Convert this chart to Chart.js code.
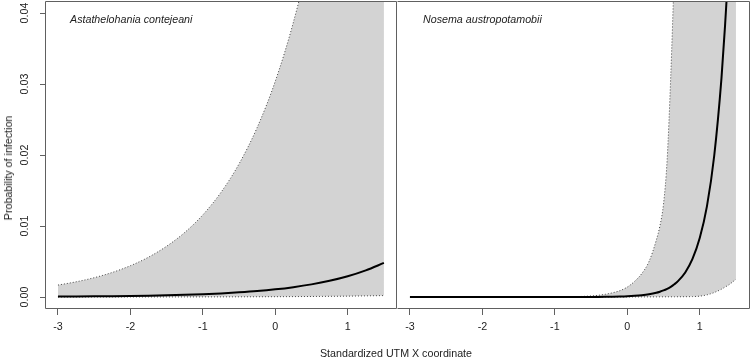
<!DOCTYPE html>
<html><head><meta charset="utf-8">
<script src="https://cdn.jsdelivr.net/npm/chart.js@4/dist/chart.umd.min.js"></script>
<style>
html,body{margin:0;padding:0;background:#fff;}
#wrap{position:relative;width:751px;height:360px;overflow:hidden;font-family:"Liberation Sans",Arial,sans-serif;color:#222;}
canvas{position:absolute;top:0;}
.lbl{position:absolute;font-size:10.7px;line-height:12px;white-space:nowrap;}
#ytitle{left:8px;top:168px;transform:translate(-50%,-50%) rotate(-90deg);}
</style></head><body>
<div id="wrap">
<canvas id="c1" width="398" height="360" style="left:0px"></canvas>
<canvas id="c2" width="361" height="360" style="left:390px"></canvas>
<div class="lbl" style="left:70px;top:13px;font-style:italic">Astathelohania contejeani</div>
<div class="lbl" style="left:423px;top:13px;font-style:italic">Nosema austropotamobii</div>
<div class="lbl" style="left:0px;width:792px;text-align:center;top:347px">Standardized UTM X coordinate</div>
<div class="lbl" id="ytitle">Probability of infection</div>
</div>
<script>
// ---- data ----
const panelTitles = ["Astathelohania contejeani", "Nosema austropotamobii"];
const xTicks = [-3, -2, -1, 0, 1];
const yTicks = [0, 0.01, 0.02, 0.03, 0.04];
const yTickLabels = ["0.00", "0.01", "0.02", "0.03", "0.04"];

const xLeft = [-3, -2.75, -2.5, -2.25, -2, -1.75, -1.5, -1.25, -1, -0.75, -0.5, -0.25, 0, 0.25, 0.5, 0.75, 1, 1.25, 1.5];
const meanLeft = [0.000055, 0.00007, 0.00009, 0.000115, 0.00015, 0.00019, 0.00024, 0.00031, 0.0004, 0.00051, 0.00066, 0.00084, 0.00108, 0.00139, 0.00178, 0.00228, 0.00292, 0.00375, 0.0048];
const upperLeft = [0.00168, 0.00214, 0.00272, 0.00346, 0.00441, 0.00561, 0.00715, 0.00909, 0.01157, 0.01473, 0.01875, 0.02387, 0.03038, 0.0387, 0.0492, 0.0627, 0.0798, 0.1015, 0.129];
const lowerLeft = [0.000002, 0.0000025, 0.0000033, 0.0000043, 0.0000056, 0.0000072, 0.0000093, 0.000012, 0.000016, 0.00002, 0.000026, 0.000034, 0.000044, 0.000057, 0.000074, 0.000095, 0.00012, 0.00016, 0.0002];

const xRight = [-3, -2.5, -2, -1.5, -1, -0.9, -0.8, -0.7, -0.6, -0.5, -0.4, -0.3, -0.2, -0.1, 0, 0.1, 0.2, 0.3, 0.4, 0.45, 0.5, 0.55, 0.6, 0.65, 0.7, 0.8, 0.9, 1.0, 1.1, 1.2, 1.3, 1.35, 1.4, 1.5];
const meanRight = [0, 0, 0, 0.0000001, 0.0000013, 0.000002, 0.000003, 0.000005, 0.000007, 0.000012, 0.000018, 0.000028, 0.000043, 0.000068, 0.000105, 0.000163, 0.00025, 0.00039, 0.0006, 0.00075, 0.00093, 0.00116, 0.00144, 0.0018, 0.00224, 0.00346, 0.00536, 0.0083, 0.0128, 0.0199, 0.0308, 0.0383, 0.0476, 0.0737];
const upperRight = [0.0000001, 0.0000003, 0.000001, 0.000003, 0.00001, 0.000017, 0.00003, 0.00005, 0.00009, 0.00015, 0.00024, 0.00039, 0.0006, 0.0009, 0.0014, 0.0022, 0.0033, 0.005, 0.008, 0.01, 0.0131, 0.0193, 0.0311, 0.0461, 0.061, 0.09, 0.12, 0.15, 0.18, 0.21, 0.24, 0.255, 0.27, 0.3];
const lowerRight = [0, 0, 0, 0, 0.0000001, 0.0000002, 0.0000003, 0.0000005, 0.0000008, 0.0000012, 0.0000018, 0.0000027, 0.000004, 0.000006, 0.000008, 0.000011, 0.000014, 0.000018, 0.000022, 0.000024, 0.000026, 0.000028, 0.00003, 0.000033, 0.000036, 0.000042, 0.00006, 0.00012, 0.0003, 0.00063, 0.0011, 0.0014, 0.0017, 0.0025];

// ---- styling ----
const FONT = {family: '"Liberation Sans", Arial, sans-serif', size: 10.7};
const AXIS_COL = '#606060';
const TEXT_COL = '#222222';
Chart.defaults.font.family = FONT.family;
Chart.defaults.font.size = FONT.size;
Chart.defaults.color = TEXT_COL;

const pts = (xs, ys) => xs.map((x, i) => ({x: x, y: ys[i]}));

const framePlugin = {
  id: 'frame',
  afterDatasetsDraw(chart, args, o) {
    const a = chart.chartArea, ctx = chart.ctx;
    const l = a.left + 0.5, r = a.right - 0.5, t = a.top + 0.5, b = a.bottom - 0.5;
    ctx.save();
    ctx.strokeStyle = AXIS_COL;
    ctx.lineWidth = 1;
    ctx.beginPath();
    ctx.moveTo(l, t); ctx.lineTo(r, t); ctx.lineTo(r, b); ctx.lineTo(l, b);
    if (!o.skipLeft) ctx.lineTo(l, t);
    ctx.stroke();
    ctx.restore();
  }
};

function noPad(s) { s.paddingTop = 0; s.paddingBottom = 0; s.paddingLeft = 0; s.paddingRight = 0; }

function makeChart(id, xs, mean, upper, lower, opts) {
  return new Chart(document.getElementById(id), {
    type: 'line',
    data: {
      datasets: [
        {data: pts(xs, mean), borderColor: '#000', borderWidth: 2, pointRadius: 0, fill: false, cubicInterpolationMode: 'monotone', clip: 0},
        {data: pts(xs, upper), borderColor: '#444', borderWidth: 1, borderDash: [1, 2], pointRadius: 0, fill: '+1', backgroundColor: '#d3d3d3', cubicInterpolationMode: 'monotone', clip: 0},
        {data: pts(xs, lower), borderColor: '#444', borderWidth: 1, borderDash: [1, 2], pointRadius: 0, fill: false, cubicInterpolationMode: 'monotone', clip: 0}
      ]
    },
    options: {
      responsive: false,
      animation: false,
      devicePixelRatio: 1,
      layout: {padding: {left: opts.padLeft, right: 1, top: 1, bottom: 0}},
      plugins: {legend: {display: false}, tooltip: {enabled: false}, filler: {drawTime: 'beforeDatasetsDraw'},
                frame: {skipLeft: opts.skipLeft}},
      scales: {
        x: {
          type: 'linear', min: -3.179, max: opts.xMax,
          afterBuildTicks: s => { s.ticks = xTicks.map(v => ({value: v})); },
          afterFit: s => { s.height = 51; noPad(s); },
          grid: {drawOnChartArea: false, drawTicks: true, tickLength: 6, color: AXIS_COL, tickColor: AXIS_COL},
          border: {display: false},
          ticks: {padding: 6, color: TEXT_COL, font: FONT, maxRotation: 0, minRotation: 0,
                  callback: v => String(v)}
        },
        y: {
          type: 'linear', min: -0.00169, max: 0.0417, display: opts.showY,
          afterBuildTicks: s => { s.ticks = yTicks.map(v => ({value: v})); },
          afterFit: s => { s.width = opts.showY ? 45 : 0; noPad(s); },
          grid: {drawOnChartArea: false, drawTicks: true, tickLength: 5, color: AXIS_COL, tickColor: AXIS_COL},
          border: {display: false},
          ticks: {padding: 5, color: TEXT_COL, font: FONT, minRotation: 90, maxRotation: 90, crossAlign: 'center',
                  callback: (v) => { const i = yTicks.findIndex(t => Math.abs(t - v) < 1e-9); return i >= 0 ? yTickLabels[i] : ''; }}
        }
      }
    },
    plugins: [framePlugin]
  });
}

makeChart('c1', xLeft, meanLeft, upperLeft, lowerLeft, {padLeft: 0, xMax: 1.681, showY: true, skipLeft: false});
makeChart('c2', xRight, meanRight, upperRight, lowerRight, {padLeft: 7, xMax: 1.694, showY: false, skipLeft: true});
</script>
</body></html>
